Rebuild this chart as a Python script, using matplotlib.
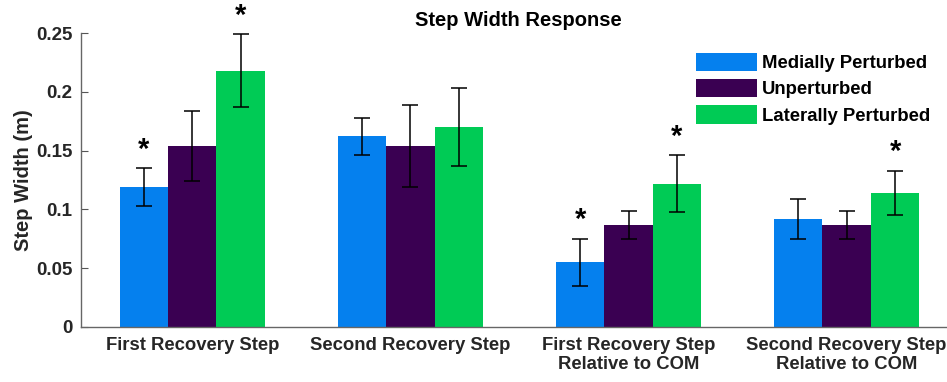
import numpy as np
import matplotlib.pyplot as plt

plt.rcParams['font.family'] = ['Liberation Sans', 'DejaVu Sans']
plt.rcParams['font.weight'] = 'bold'

# Step width means and error bar half-lengths (m)
groups = ['First Recovery Step', 'Second Recovery Step',
          'First Recovery Step\nRelative to COM', 'Second Recovery Step\nRelative to COM']
conditions = ['Medially Perturbed', 'Unperturbed', 'Laterally Perturbed']
medial = [0.119, 0.162, 0.055, 0.092]
unpert = [0.154, 0.154, 0.087, 0.087]
lateral = [0.218, 0.170, 0.122, 0.114]
medial_err = [0.016, 0.016, 0.020, 0.017]
unpert_err = [0.030, 0.035, 0.012, 0.012]
lateral_err = [0.031, 0.033, 0.024, 0.019]
# significance stars: (group index, condition index)
stars = [(0, 0), (0, 2), (2, 0), (2, 2), (3, 2)]

colors = ['#0580EE', '#3A0052', '#00CB55']
means = [medial, unpert, lateral]
errs = [medial_err, unpert_err, lateral_err]

fig = plt.figure(figsize=(9.47, 3.82), dpi=100)
ax = fig.add_axes([0.0855, 0.144, 0.9145, 0.7696])

x = np.arange(1, len(groups) + 1)
w = 0.222
for i in range(3):
    pos = x + (i - 1) * w
    ax.bar(pos, means[i], width=w, color=colors[i], label=conditions[i], zorder=2)
    ax.errorbar(pos, means[i], yerr=errs[i], fmt='none', ecolor='black',
                elinewidth=1.1, capsize=6, capthick=1.1, zorder=3)

for g, c in stars:
    top = means[c][g] + errs[c][g]
    ax.text(x[g] + (c - 1) * w, top + 0.004, '*', ha='center', va='bottom',
            fontsize=21, fontweight='bold')

ax.set_xlim(0.49, 4.46)
ax.set_ylim(0, 0.25)
ax.set_xticks(x)
ax.set_xticklabels(groups, fontsize=13.3, fontweight='bold', color='#262626',
                   linespacing=1.15)
ax.set_yticks([0, 0.05, 0.1, 0.15, 0.2, 0.25])
ax.set_yticklabels(['0', '0.05', '0.1', '0.15', '0.2', '0.25'], fontsize=13.5,
                   fontweight='bold', color='#262626')
ax.tick_params(direction='in', length=5, color='#555555', pad=7)
ax.tick_params(axis='y', pad=6)
ax.set_ylabel('Step Width (m)', fontsize=14.5, fontweight='bold', color='#262626',
              labelpad=2)
ax.set_title('Step Width Response', fontsize=14.5, fontweight='bold', pad=5, x=0.505)

for s in ['top', 'right']:
    ax.spines[s].set_visible(False)
for s in ['left', 'bottom']:
    ax.spines[s].set_color('#666666')
    ax.spines[s].set_linewidth(1.0)

leg = ax.legend(loc='upper right', bbox_to_anchor=(1.0, 0.99), frameon=False,
                fontsize=13.3, handlelength=3.3, handleheight=1.15,
                labelspacing=0.38, handletextpad=0.3)

fig.savefig('out.png', dpi=100)
